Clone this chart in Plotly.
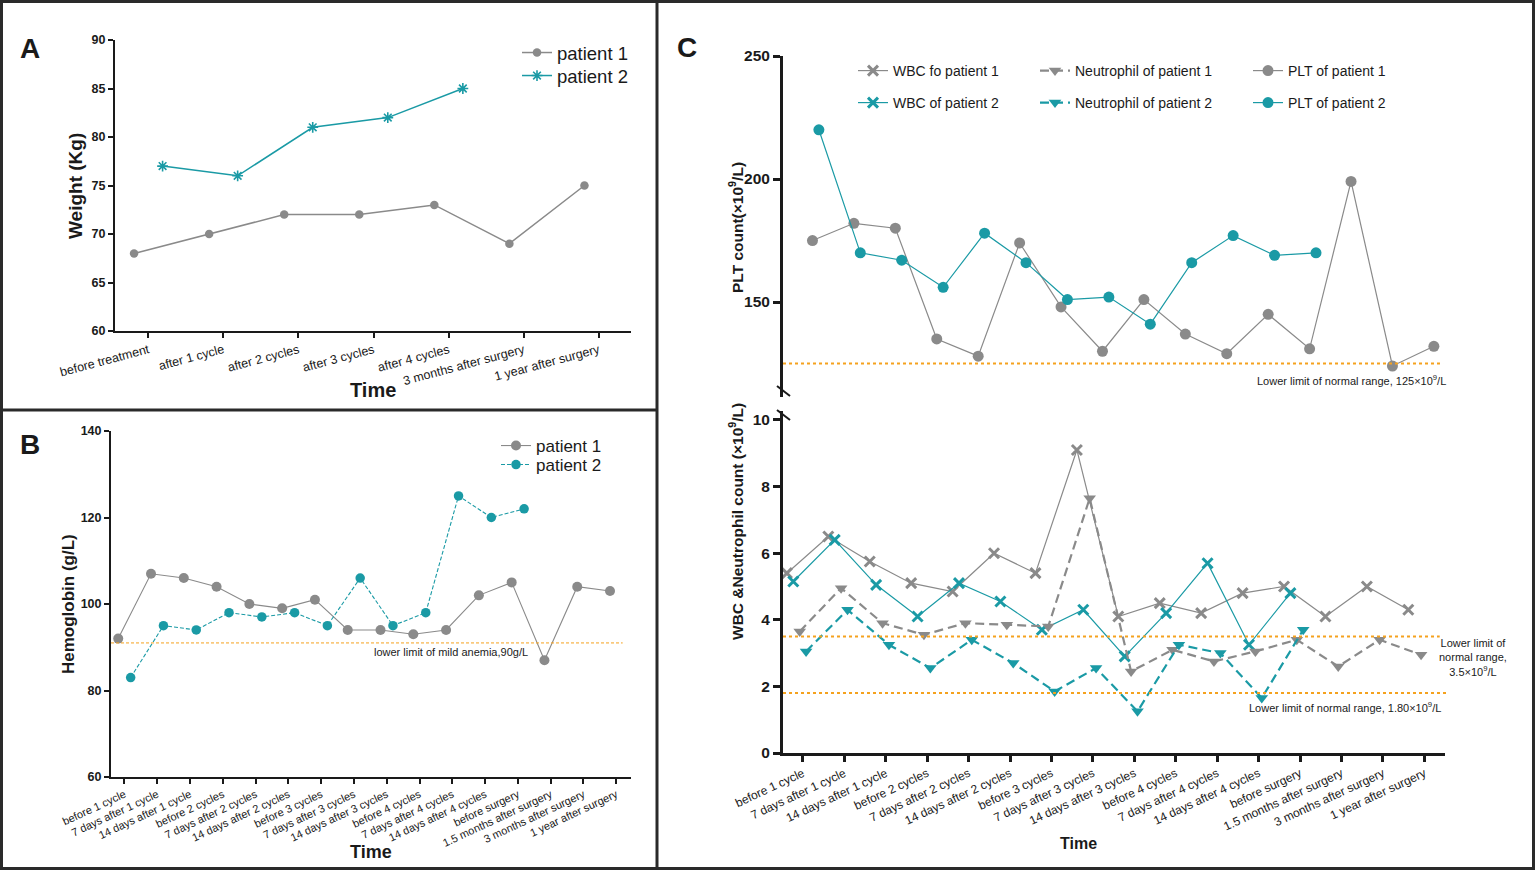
import numpy as np
import plotly.graph_objects as go

W, H = 1535, 870
def fx(p): return p / W
def fy(p): return 1 - p / H

GRAY = "#8a8a8a"
TEAL = "#1a9aa5"
ORANGE = "#f5a21e"
INK = "#1a1a1a"
FONT = "Arial, Liberation Sans, sans-serif"

# ---------------- data ----------------
weight_times = ["before treatment", "after 1 cycle", "after 2 cycles", "after 3 cycles",
                "after 4 cycles", "3 months after surgery", "1 year after surgery"]
weight_p1 = [68, 70, 72, 72, 73, 69, 75]
weight_p2 = [77, 76, 81, 82, 85]

lab_times = ["before 1 cycle", "7 days after 1 cycle", "14 days after 1 cycle", "before 2 cycles",
             "7 days after 2 cycles", "14 days after 2 cycles", "before 3 cycles",
             "7 days after 3 cycles", "14 days after 3 cycles", "before 4 cycles",
             "7 days after 4 cycles", "14 days after 4 cycles", "before surgery",
             "1.5 months after surgery", "3 months after surgery", "1 year after surgery"]
hb_p1 = [92, 107, 106, 104, 100, 99, 101, 94, 94, 93, 94, 102, 105, 87, 104, 103]
hb_p2 = [83, 95, 94, 98, 97, 98, 95, 106, 95, 98, 125, 120, 122]
hb_limit = 91

plt_p1 = [175, 182, 180, 135, 128, 174, 148, 130, 151, 137, 129, 145, 131, 199, 124, 132]
plt_p2 = [220, 170, 167, 156, 178, 166, 151, 152, 141, 166, 177, 169, 170]
wbc_p1 = [5.4, 6.5, 5.75, 5.1, 4.85, 6.0, 5.4, 9.1, 4.1, 4.5, 4.2, 4.8, 5.0, 4.1, 5.0, 4.3]
wbc_p2 = [5.15, 6.4, 5.05, 4.1, 5.1, 4.55, 3.7, 4.3, 2.9, 4.2, 5.7, 3.25, 4.8]
neu_p1 = [3.65, 4.95, 3.9, 3.55, 3.9, 3.85, 3.8, 7.65, 2.45, 3.1, 2.75, 3.05, 3.4, 2.6, 3.4, 2.95]
neu_p2 = [3.05, 4.3, 3.25, 2.55, 3.4, 2.7, 1.85, 2.55, 1.25, 3.25, 3.0, 1.65, 3.7]
plt_limit = 125
wbc_limit = 3.5
neu_limit = 1.8

# group offsets (category units)
pair_off = 0.19
c_off = np.linspace(-0.386, 0.386, 6)

fig = go.Figure()

def add(y, off, name, color, symbol, size, xa, ya, legend, dash="solid", lw=1.5, mline=0):
    x = np.arange(len(y)) + off
    fig.add_trace(go.Scatter(
        x=x, y=y, name=name, mode="lines+markers", xaxis=xa, yaxis=ya, legend=legend,
        showlegend=True,
        line=dict(color=color, width=lw, dash=dash),
        marker=dict(symbol=symbol, size=size, color=color, line=dict(width=mline, color=color)),
        hoverinfo="skip"))

# Panel A
add(weight_p1, -pair_off, "patient 1", GRAY, "circle", 8.5, "x", "y", "legend", lw=1.5)
add(weight_p2, pair_off, "patient 2", TEAL, "asterisk-open", 9, "x", "y", "legend2", lw=1.5, mline=1.6)
# Panel B
add(hb_p1, -pair_off, "patient 1", GRAY, "circle", 10, "x2", "y2", "legend3", lw=1.1)
add(hb_p2, pair_off, "patient 2", TEAL, "circle", 9.5, "x2", "y2", "legend4", dash="4px,2px", lw=1.1)
# Panel C
add(wbc_p1, c_off[0], "WBC fo patient 1", GRAY, "x-thin-open", 10, "x4", "y4", "legend5", lw=1.2, mline=3)
add(wbc_p2, c_off[1], "WBC of patient 2", TEAL, "x-thin-open", 10, "x4", "y4", "legend6", lw=1.2, mline=3)
add(neu_p1, c_off[2], "Neutrophil of patient 1", GRAY, "triangle-down", 11, "x4", "y4", "legend7", dash="9px,5px", lw=2.2)
add(neu_p2, c_off[3], "Neutrophil of patient 2", TEAL, "triangle-down", 11, "x4", "y4", "legend8", dash="9px,5px", lw=2.2)
add(plt_p1, c_off[4], "PLT of patient 1", GRAY, "circle", 11, "x3", "y3", "legend9", lw=1.2)
add(plt_p2, c_off[5], "PLT of patient 2", TEAL, "circle", 11, "x3", "y3", "legend10", lw=1.2)

def xax(domain, rng, labels, angle, fs, lw, anchor, tl=6):
    return dict(domain=domain, range=rng, anchor=anchor, tickmode="array", automargin=False,
                tickvals=list(range(len(labels))), ticktext=labels, tickangle=angle,
                tickfont=dict(size=fs, color=INK, family=FONT),
                showline=True, linecolor=INK, linewidth=lw, ticks="outside", ticklen=tl,
                tickwidth=lw, tickcolor=INK, showgrid=False, zeroline=False)

def yax(domain, rng, tickvals, fs, lw, anchor, tl=5):
    return dict(domain=domain, range=rng, anchor=anchor, tickmode="array", tickvals=tickvals,
                automargin=False,
                tickfont=dict(size=fs, color=INK, family=FONT, weight="bold"),
                showline=True, linecolor=INK, linewidth=lw, ticks="outside", ticklen=tl,
                tickwidth=lw, tickcolor=INK, showgrid=False, zeroline=False)

layout = dict(
    width=W, height=H, margin=dict(l=0, r=0, t=0, b=0, autoexpand=False),
    showlegend=True,
    paper_bgcolor="white", plot_bgcolor="rgba(0,0,0,0)", hovermode=False,
    font=dict(family=FONT, color=INK),
    xaxis=xax([fx(115), fx(631)], [-0.444, 6.43], weight_times, -15, 12.5, 2, "y", tl=5),
    yaxis=yax([fy(331), fy(40)], [60, 90], [60, 65, 70, 75, 80, 85, 90], 12.5, 2, "x"),
    xaxis2=xax([fx(111), fx(631)], [-0.41, 15.45], lab_times, -25, 11, 2, "y2", tl=5),
    yaxis2=yax([fy(777), fy(431)], [60, 140], [60, 80, 100, 120, 140], 12.5, 2, "x2"),
    xaxis3=dict(domain=[fx(783), fx(1445)], range=[-0.48, 15.5], anchor="y3", visible=False,
                automargin=False),
    yaxis3=yax([fy(397), fy(56)], [111.4, 250], [150, 200, 250], 15.5, 3, "x3", tl=7),
    xaxis4=xax([fx(783), fx(1445)], [-0.48, 15.5], lab_times, -25, 12, 3, "y4"),
    yaxis4=yax([fy(753), fy(411)], [0, 10.27], [0, 2, 4, 6, 8, 10], 15.5, 3, "x4", tl=7),
)

legend_specs = {
    "legend": (537, 53, 18.5), "legend2": (537, 76, 18.5),
    "legend3": (516, 446, 17), "legend4": (516, 465, 17),
    "legend5": (873, 71, 14), "legend6": (873, 103, 14),
    "legend7": (1055, 71, 14), "legend8": (1055, 103, 14),
    "legend9": (1268, 71, 14), "legend10": (1268, 103, 14),
}
for key, (mx, my, fs) in legend_specs.items():
    layout[key] = dict(x=fx(mx - 20), y=fy(my), xanchor="left", yanchor="middle",
                       bgcolor="rgba(0,0,0,0)", borderwidth=0, itemwidth=30, visible=True,
                       font=dict(size=fs, color=INK, family=FONT))

fig.update_layout(**layout)

# threshold lines
fig.add_shape(type="line", xref="x2 domain", yref="y2", x0=0, x1=0.984, y0=hb_limit, y1=hb_limit,
              line=dict(color=ORANGE, width=1, dash="3px,2px"))
fig.add_shape(type="line", xref="x3 domain", yref="y3", x0=0, x1=0.997, y0=plt_limit, y1=plt_limit,
              line=dict(color=ORANGE, width=2, dash="dot"))
fig.add_shape(type="line", xref="x4 domain", yref="y4", x0=0, x1=0.992, y0=wbc_limit, y1=wbc_limit,
              line=dict(color=ORANGE, width=2, dash="dot"))
fig.add_shape(type="line", xref="x4 domain", yref="y4", x0=0, x1=1.003, y0=neu_limit, y1=neu_limit,
              line=dict(color=ORANGE, width=2, dash="dot"))

# axis break marks
for (x0, y0, x1, y1) in [(777, 386, 790, 396), (777, 410, 790, 420)]:
    fig.add_shape(type="line", xref="paper", yref="paper", x0=fx(x0), y0=fy(y0), x1=fx(x1), y1=fy(y1),
                  line=dict(color=INK, width=2))

# panel borders
BORDER = "#2a2a2a"
fig.add_shape(type="rect", xref="paper", yref="paper", x0=fx(1.5), y0=fy(868.5), x1=fx(1533.5), y1=fy(1.5),
              line=dict(color=BORDER, width=3))
fig.add_shape(type="line", xref="paper", yref="paper", x0=fx(657), y0=fy(0), x1=fx(657), y1=fy(870),
              line=dict(color=BORDER, width=3))
fig.add_shape(type="line", xref="paper", yref="paper", x0=fx(0), y0=fy(410), x1=fx(657), y1=fy(410),
              line=dict(color=BORDER, width=3))

def ann(text, x, y, size, bold=False, angle=0, xanchor="center", align="center"):
    fig.add_annotation(text=f"<b>{text}</b>" if bold else text, xref="paper", yref="paper",
                       x=fx(x), y=fy(y), xanchor=xanchor, yanchor="middle", showarrow=False,
                       textangle=angle, align=align, font=dict(size=size, color=INK, family=FONT))

ann("A", 30, 48, 28, bold=True)
ann("B", 30, 444, 28, bold=True)
ann("C", 687, 47, 28, bold=True)
ann("Weight (Kg)", 76, 186, 19, bold=True, angle=-90)
ann("Time", 373, 390, 20, bold=True)
ann("Hemoglobin (g/L)", 68, 604, 17, bold=True, angle=-90)
ann("Time", 371, 852, 18, bold=True)
ann("PLT count(×10<sup>9</sup>/L)", 736, 228, 15.5, bold=True, angle=-90)
ann("WBC &Neutrophil count (×10<sup>9</sup>/L)", 736, 522, 15.5, bold=True, angle=-90)
ann("Time", 1078, 843, 16, bold=True)
ann("lower limit of mild anemia,90g/L", 451, 652, 11)
ann("Lower limit of normal range, 125×10<sup>9</sup>/L", 1448, 380, 11, xanchor="right")
ann("Lower limit of<br>normal range,<br>3.5×10<sup>9</sup>/L", 1473, 657, 11)
ann("Lower limit of normal range, 1.80×10<sup>9</sup>/L", 1443, 707, 11, xanchor="right")

fig.write_html("out.html", include_plotlyjs=True, config={"displayModeBar": False},
               post_script="document.body.style.margin='0';document.body.style.overflow='hidden';")
